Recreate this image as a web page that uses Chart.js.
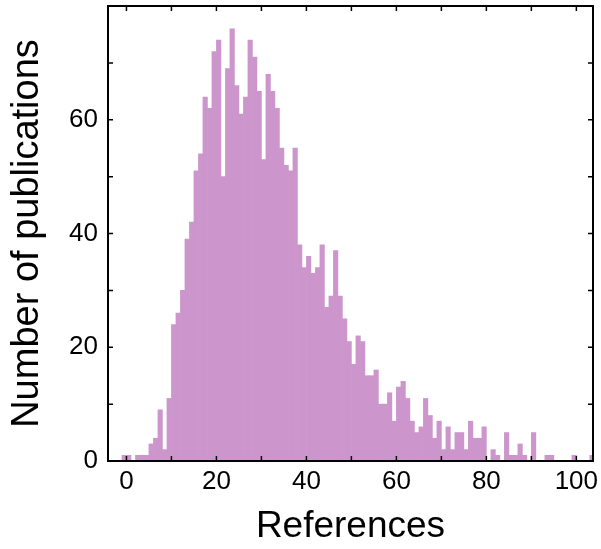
<!DOCTYPE html>
<html>
<head>
<meta charset="utf-8">
<script src="https://cdn.jsdelivr.net/npm/chart.js@4.4.1/dist/chart.umd.min.js"></script>
<style>
  html, body { margin: 0; padding: 0; background: #fff; }
</style>
</head>
<body>
<canvas id="histChart" width="601" height="549"></canvas>
<script>
// Histogram: number of publications per reference count (bins one wide)
const firstBin = -1;
const counts = [
  1, 1, 0, 1, 1, 1, 3, 4, 9, 2,          // -1 .. 8
  11, 24, 26, 30, 39, 42, 51, 54, 64, 62, // 9 .. 18
  72, 74, 50, 69, 76, 66, 61, 64, 74, 71, // 19 .. 28
  65, 53, 68, 65, 62, 55, 52, 51, 55, 38, // 29 .. 38
  34, 36, 33, 34, 38, 27, 29, 37, 29, 25, // 39 .. 48
  21, 17, 22, 21, 15, 15, 16, 10, 10, 12, // 49 .. 58
  7, 13, 14, 11, 7, 5, 6, 11, 8, 4,       // 59 .. 68
  7, 2, 6, 2, 5, 5, 2, 7, 4, 4,           // 69 .. 78
  6, 0, 2, 1, 0, 5, 1, 1, 3, 1,           // 79 .. 88
  0, 5, 0, 0, 1, 1, 0, 0, 0, 0,           // 89 .. 98
  1, 0, 0, 0, 1                           // 99 .. 103
];
const xTickMarks = [0, 10, 20, 30, 40, 50, 60, 70, 80, 90, 100];
const xTickLabels = [0, 20, 40, 60, 80, 100];
const yTickMarks = [0, 10, 20, 30, 40, 50, 60, 70];
const yTickLabels = [0, 20, 40, 60];

const FONT = "'Liberation Sans', Arial, Helvetica, sans-serif";

// frame around the plot with inward ticks on all four sides
const frameTicks = {
  id: "frameTicks",
  afterDraw(chart) {
    const { ctx, chartArea: a, scales } = chart;
    const len = 5;
    ctx.save();
    ctx.strokeStyle = "#000";
    ctx.lineWidth = 1.5;
    ctx.beginPath();
    xTickMarks.forEach((v) => {
      const px = scales.x.getPixelForValue(v);
      ctx.moveTo(px, a.bottom);
      ctx.lineTo(px, a.bottom - len);
      ctx.moveTo(px, a.top);
      ctx.lineTo(px, a.top + len);
    });
    yTickMarks.forEach((v) => {
      const py = scales.y.getPixelForValue(v);
      ctx.moveTo(a.left, py);
      ctx.lineTo(a.left + len, py);
      ctx.moveTo(a.right, py);
      ctx.lineTo(a.right - len, py);
    });
    ctx.stroke();
    ctx.lineWidth = 2;
    ctx.strokeRect(a.left, a.top, a.right - a.left, a.bottom - a.top);
    ctx.restore();
  },
};

// keep the plot box fixed: no extra room for half tick labels
function noLabelPadding(s) {
  s.paddingTop = 0;
  s.paddingBottom = 0;
  s.paddingLeft = 0;
  s.paddingRight = 0;
}

const points = counts.map((c, i) => ({ x: firstBin + i + 0.5, y: c }));

new Chart(document.getElementById("histChart"), {
  type: "bar",
  data: {
    datasets: [
      {
        data: points,
        backgroundColor: "#cc96cc",
        borderWidth: 0,
        barPercentage: 1,
        categoryPercentage: 1,
        grouped: false,
      },
    ],
  },
  options: {
    responsive: false,
    animation: false,
    layout: { padding: { top: 6, right: 8, left: 0, bottom: 0 } },
    plugins: {
      legend: { display: false },
      tooltip: { enabled: false },
    },
    scales: {
      x: {
        type: "linear",
        min: -4.1,
        max: 103.7,
        offset: false,
        grid: { display: false, drawTicks: false },
        border: { display: false },
        afterBuildTicks: (s) => {
          s.ticks = xTickLabels.map((v) => ({ value: v }));
        },
        afterFit: (s) => {
          s.height = 88;
          noLabelPadding(s);
        },
        ticks: {
          autoSkip: false,
          maxRotation: 0,
          padding: 5,
          color: "#000",
          font: { family: FONT, size: 26 },
        },
        title: {
          display: true,
          text: "References",
          color: "#000",
          padding: { top: 0, bottom: 0 },
          font: { family: FONT, size: 37 },
        },
      },
      y: {
        min: 0,
        max: 80,
        grid: { display: false, drawTicks: false },
        border: { display: false },
        afterBuildTicks: (s) => {
          s.ticks = yTickLabels.map((v) => ({ value: v }));
        },
        afterFit: (s) => {
          s.width = 108;
          noLabelPadding(s);
        },
        ticks: {
          padding: 10,
          color: "#000",
          font: { family: FONT, size: 26 },
        },
        title: {
          display: true,
          text: "Number of publications",
          color: "#000",
          padding: { top: 5, bottom: 0 },
          font: { family: FONT, size: 38 },
        },
      },
    },
  },
  plugins: [frameTicks],
});
</script>
</body>
</html>
